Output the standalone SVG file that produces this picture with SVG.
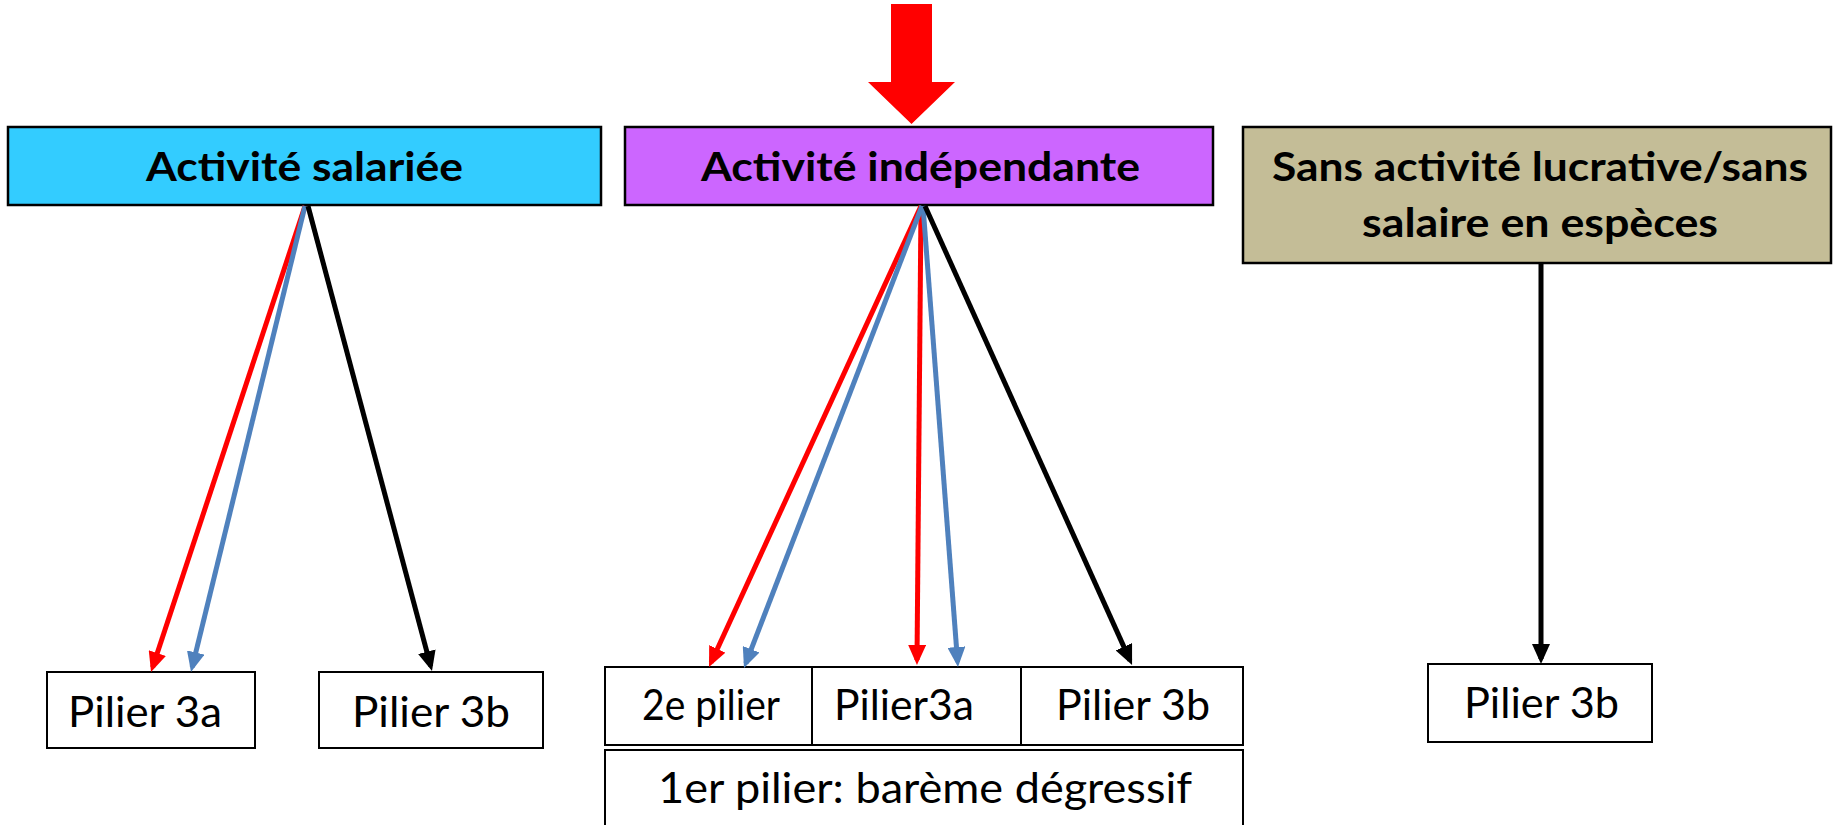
<svg xmlns="http://www.w3.org/2000/svg" width="1833" height="825" viewBox="0 0 1833 825">
<defs>
<style>
.box{stroke:#000;stroke-width:2.5}
.leaf{fill:#fff;stroke:#000;stroke-width:2}
.t{font-family:Lato,"Open Sans","Liberation Sans",sans-serif;font-size:43px;fill:#000}
.b{font-weight:bold;font-size:41px}
.c{fill:none;stroke-width:5}
.red{stroke:#FF0000}
.blue{stroke:#4F81BD}
.blk{stroke:#000}
</style>
<marker id="aR" markerUnits="userSpaceOnUse" markerWidth="20" markerHeight="18" viewBox="0 0 20 18" refX="15" refY="9" orient="auto"><path d="M0,0 L20,9 L0,18 Z" fill="#FF0000"/></marker>
<marker id="aB" markerUnits="userSpaceOnUse" markerWidth="20" markerHeight="18" viewBox="0 0 20 18" refX="15" refY="9" orient="auto"><path d="M0,0 L20,9 L0,18 Z" fill="#4F81BD"/></marker>
<marker id="aK" markerUnits="userSpaceOnUse" markerWidth="20" markerHeight="18" viewBox="0 0 20 18" refX="15" refY="9" orient="auto"><path d="M0,0 L20,9 L0,18 Z" fill="#000"/></marker>
</defs>
<rect width="1833" height="825" fill="#fff"/>

<g id="big-arrow">
<polygon points="891,4 932,4 932,82 955,82 911.5,124 868,82 891,82" fill="#FF0000"/>
</g>

<g id="salariee">
<rect class="box" x="8" y="127" width="593" height="78" fill="#33CCFF"/>
<text class="t b" x="146" y="181" textLength="317" lengthAdjust="spacingAndGlyphs">Activité salariée</text>
</g>
<g id="independante">
<rect class="box" x="625" y="127" width="588" height="78" fill="#CC66FF"/>
<text class="t b" x="701" y="181" textLength="439" lengthAdjust="spacingAndGlyphs">Activité indépendante</text>
</g>
<g id="sans-activite">
<rect class="box" x="1243" y="127" width="588" height="136" fill="#C4BD97"/>
<text class="t b" x="1272" y="181" textLength="536" lengthAdjust="spacingAndGlyphs">Sans activité lucrative/sans</text>
<text class="t b" x="1362" y="237" textLength="356" lengthAdjust="spacingAndGlyphs">salaire en espèces</text>
</g>

<g id="sal-3a">
<rect class="leaf" x="47" y="672" width="208" height="76"/>
<text class="t" x="68" y="727" textLength="154" lengthAdjust="spacingAndGlyphs">Pilier 3a</text>
</g>
<g id="sal-3b">
<rect class="leaf" x="319" y="672" width="224" height="76"/>
<text class="t" x="352" y="727" textLength="158" lengthAdjust="spacingAndGlyphs">Pilier 3b</text>
</g>
<g id="ind-2e">
<rect class="leaf" x="605" y="667" width="207" height="78"/>
<text class="t" x="642" y="720" textLength="138" lengthAdjust="spacingAndGlyphs">2e pilier</text>
</g>
<g id="ind-3a">
<rect class="leaf" x="812" y="667" width="209" height="78"/>
<text class="t" x="834" y="720" textLength="140" lengthAdjust="spacingAndGlyphs">Pilier3a</text>
</g>
<g id="ind-3b">
<rect class="leaf" x="1021" y="667" width="222" height="78"/>
<text class="t" x="1056" y="720" textLength="154" lengthAdjust="spacingAndGlyphs">Pilier 3b</text>
</g>
<g id="ind-1er">
<rect class="leaf" x="605" y="750" width="638" height="90"/>
<text class="t" x="658" y="803" textLength="534" lengthAdjust="spacingAndGlyphs">1er pilier: barème dégressif</text>
</g>
<g id="sans-3b">
<rect class="leaf" x="1428" y="664" width="224" height="78"/>
<text class="t" x="1464" y="718" textLength="155" lengthAdjust="spacingAndGlyphs">Pilier 3b</text>
</g>

<g id="connectors">
<line class="c red" x1="305" y1="206" x2="152.6" y2="667.3" marker-end="url(#aR)"/>
<line class="c red" x1="921" y1="206" x2="711.1" y2="662.5" marker-end="url(#aR)"/>
<line class="c red" x1="921" y1="206" x2="917" y2="660" marker-end="url(#aR)"/>
<line class="c blue" x1="305" y1="206" x2="192.2" y2="667.1" marker-end="url(#aB)"/>
<line class="c blue" x1="922" y1="206" x2="745.8" y2="663.3" marker-end="url(#aB)"/>
<line class="c blue" x1="923" y1="206" x2="957.6" y2="662" marker-end="url(#aB)"/>
<line class="c blk" x1="308" y1="206" x2="430.7" y2="666.2" marker-end="url(#aK)"/>
<line class="c blk" x1="925" y1="206" x2="1130" y2="660.4" marker-end="url(#aK)"/>
<line class="c blk" x1="1541" y1="264" x2="1541" y2="659" marker-end="url(#aK)"/>
</g>
</svg>
